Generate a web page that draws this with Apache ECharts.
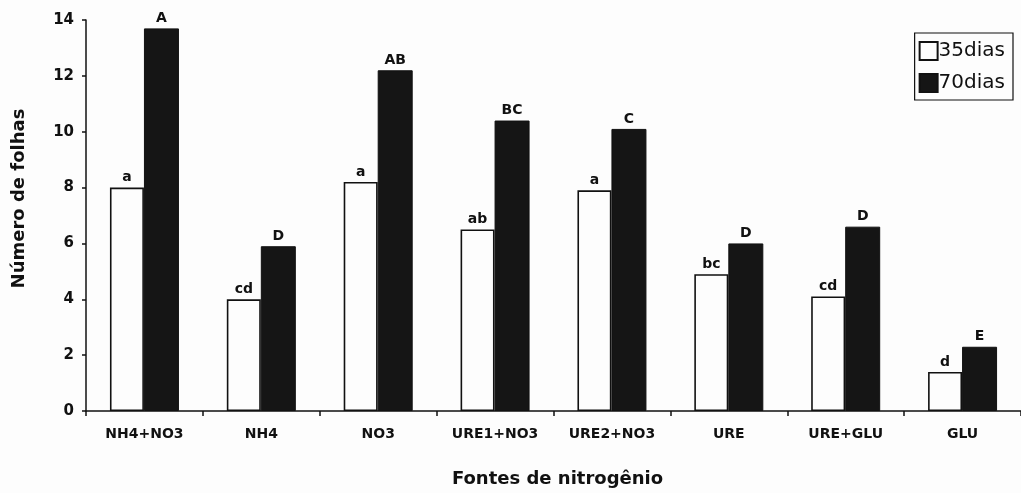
<!DOCTYPE html>
<html>
<head>
<meta charset="utf-8">
<script src="https://cdn.jsdelivr.net/npm/echarts@6/dist/echarts.min.js"></script>
<style>
  html, body { margin: 0; padding: 0; background: #fdfdfd; }
  #chart { width: 1021px; height: 493px; }
</style>
</head>
<body>
<div id="chart"></div>
<script>
// Nitrogen sources on the x axis
const categories = ['NH4+NO3', 'NH4', 'NO3', 'URE1+NO3', 'URE2+NO3', 'URE', 'URE+GLU', 'GLU'];
// Mean number of leaves
const dias35 = [8.0, 4.0, 8.2, 6.5, 7.9, 4.9, 4.1, 1.4];
const dias70 = [13.7, 5.9, 12.2, 10.4, 10.1, 6.0, 6.6, 2.3];
// Significance letters shown above each bar
const letras35 = ['a', 'cd', 'a', 'ab', 'a', 'bc', 'cd', 'd'];
const letras70 = ['A', 'D', 'AB', 'BC', 'C', 'D', 'D', 'E'];
const yTicks = [0, 2, 4, 6, 8, 10, 12, 14];

const FONT = 'DejaVu Sans';
const ink = '#111';

const chart = echarts.init(document.getElementById('chart'));
chart.setOption({
  backgroundColor: '#fdfdfd',
  animation: false,
  textStyle: { fontFamily: FONT, color: ink },
  grid: { left: 86, top: 20, width: 944, bottom: 80, containLabel: false },
  legend: {
    orient: 'vertical',
    right: 8,
    top: 33,
    padding: [8, 8, 7, 4],
    itemGap: 12,
    itemWidth: 18,
    itemHeight: 18,
    icon: 'rect',
    borderColor: ink,
    borderWidth: 1.2,
    backgroundColor: '#fdfdfd',
    textStyle: { fontFamily: FONT, fontSize: 20, color: ink, padding: [0, 0, 0, -4] },
    data: ['35dias', '70dias']
  },
  xAxis: {
    type: 'category',
    data: categories,
    name: 'Fontes de nitrogênio',
    nameLocation: 'middle',
    nameGap: 59,
    nameTextStyle: { fontFamily: FONT, fontSize: 18, fontWeight: 'bold', color: ink, padding: [0, 0, 0, 8] },
    axisLine: { lineStyle: { color: ink, width: 1.5 } },
    axisTick: { show: true, length: 5, inside: false, lineStyle: { color: ink, width: 1.5 } },
    axisLabel: {
      margin: 16,
      fontFamily: FONT, fontSize: 14, fontWeight: 'bold', color: ink
    }
  },
  yAxis: {
    type: 'value',
    min: 0, max: 14, interval: 2,
    name: 'Número de folhas',
    nameLocation: 'middle',
    nameGap: 58,
    nameTextStyle: { fontFamily: FONT, fontSize: 18, fontWeight: 'bold', color: ink, padding: [0, 0, 0, 34] },
    axisLine: { show: true, lineStyle: { color: ink, width: 1.5 } },
    axisTick: { show: true, length: 4, inside: false, lineStyle: { color: ink, width: 1.5 } },
    axisLabel: {
      margin: 12,
      fontFamily: FONT, fontSize: 15, fontWeight: 'bold', color: ink,
      formatter: v => (yTicks.includes(v) ? String(v) : '')
    },
    splitLine: { show: false }
  },
  series: [
    {
      name: '35dias',
      type: 'bar',
      data: dias35,
      barWidth: 34,
      barGap: '0%',
      itemStyle: { color: '#fdfdfd', borderColor: ink, borderWidth: 1.6 },
      label: {
        show: true, position: 'top', distance: 3,
        fontFamily: FONT, fontSize: 14, fontWeight: 'bold', color: ink,
        formatter: p => letras35[p.dataIndex]
      }
    },
    {
      name: '70dias',
      type: 'bar',
      data: dias70,
      barWidth: 35,
      itemStyle: { color: '#151515', borderColor: ink, borderWidth: 1 },
      label: {
        show: true, position: 'top', distance: 3,
        fontFamily: FONT, fontSize: 14, fontWeight: 'bold', color: ink,
        formatter: p => letras70[p.dataIndex]
      }
    }
  ]
});
</script>
</body>
</html>
